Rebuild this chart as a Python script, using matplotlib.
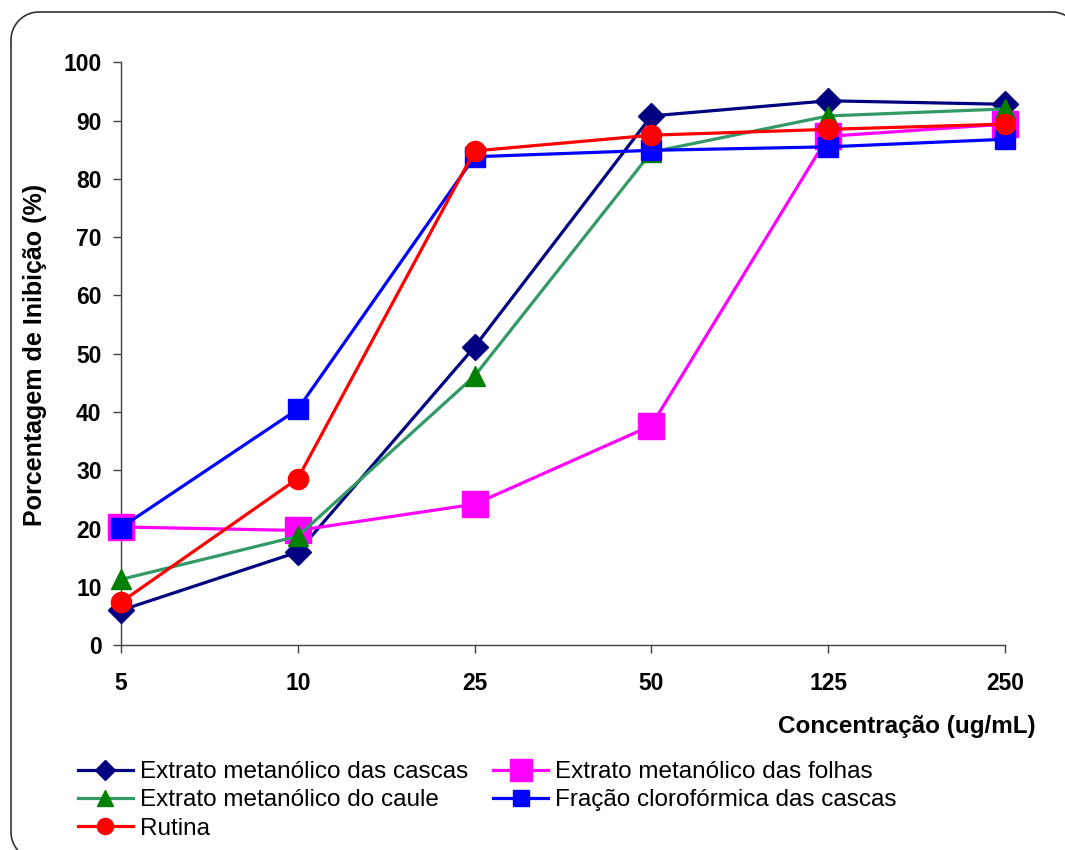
import numpy as np
import matplotlib
matplotlib.use("Agg")
import matplotlib.pyplot as plt
from matplotlib.patches import PathPatch
from matplotlib.path import Path
from matplotlib.transforms import IdentityTransform

plt.rcParams['font.family'] = ['Liberation Sans', 'DejaVu Sans']

concentracoes = ['5', '10', '25', '50', '125', '250']

cascas = [6.0, 16.0, 51.2, 90.8, 93.4, 92.8]
folhas = [20.3, 19.7, 24.2, 37.7, 87.3, 89.4]
caule = [11.3, 18.7, 46.2, 84.6, 90.8, 92.0]
fracao = [20.2, 40.5, 83.8, 84.9, 85.5, 86.8]
rutina = [7.4, 28.6, 84.8, 87.5, 88.5, 89.4]

W, H = 1065, 850
fig = plt.figure(figsize=(W / 100, H / 100), dpi=100)
ax = fig.add_axes([121 / W, (H - 645.3) / H, (1005 - 121) / W, (645.3 - 62.3) / H])

x = list(range(len(concentracoes)))
lw = 2.3

l_cascas, = ax.plot(x, cascas, color='#000080', lw=lw, marker='D', ms=13,
                    mfc='#000080', mec='#000080', zorder=3,
                    label='Extrato metanólico das cascas')
l_folhas, = ax.plot(x, folhas, color='#FF00FF', lw=lw, marker='s', ms=19,
                    mfc='#FF00FF', mec='#FF00FF', zorder=4,
                    label='Extrato metanólico das folhas')
l_caule, = ax.plot(x, caule, color='#339966', lw=lw, marker='^', ms=15,
                   mfc='#008000', mec='#008000', zorder=5,
                   label='Extrato metanólico do caule')
l_fracao, = ax.plot(x, fracao, color='#0000FF', lw=lw, marker='s', ms=15,
                    mfc='#0000FF', mec='#0000FF', zorder=6,
                    label='Fração clorofórmica das cascas')
l_rutina, = ax.plot(x, rutina, color='#FF0000', lw=lw, marker='o', ms=14.5,
                    mfc='#FF0000', mec='#FF0000', zorder=7, label='Rutina')

ax.set_xlim(0, len(concentracoes) - 1)
ax.set_ylim(0, 100)
ax.set_xticks(x)
ax.set_xticklabels(concentracoes)
ax.set_yticks(range(0, 101, 10))

for side in ('top', 'right'):
    ax.spines[side].set_visible(False)
for side in ('left', 'bottom'):
    ax.spines[side].set_color('#404040')
    ax.spines[side].set_linewidth(1.0)

ax.tick_params(axis='both', direction='out', length=6, width=1.0, color='#404040',
               labelsize=16.5)
ax.tick_params(axis='y', pad=8)
ax.tick_params(axis='x', pad=13)
for lab in ax.get_xticklabels() + ax.get_yticklabels():
    lab.set_fontweight('bold')

for line in ax.get_lines():
    line.set_clip_on(False)

fig.text(35 / W, 1 - 355 / H, 'Porcentagem de Inibição (%)', rotation=90,
         ha='center', va='center', fontsize=18, fontweight='bold')
fig.text(1036 / W, 1 - 727 / H, 'Concentração (ug/mL)', ha='right', va='center',
         fontsize=17.5, fontweight='bold')

handles = [l_cascas, l_caule, l_rutina, l_folhas, l_fracao]
leg = fig.legend(handles=handles, labels=[h.get_label() for h in handles],
                 loc='upper left', bbox_to_anchor=(78 / W, 1 - 761 / H),
                 ncol=2, frameon=False, fontsize=17.5, handlelength=2.26,
                 handletextpad=0.29, columnspacing=1.03, labelspacing=0.26,
                 borderpad=0, borderaxespad=0, markerscale=0.8)

# rounded frame around the whole figure (pixel coordinates, y measured from top)
left, top, right, bottom, r = 11, 12, 1080, 860, 28


def arc(cx, cy, a0, a1, n=24):
    t = np.radians(np.linspace(a0, a1, n))
    return np.column_stack([cx + r * np.cos(t), cy - r * np.sin(t)])


pts = np.vstack([
    arc(left + r, top + r, 180, 90),
    arc(right - r, top + r, 90, 0),
    arc(right - r, bottom - r, 0, -90),
    arc(left + r, bottom - r, -90, -180),
    [[left, top + r]],
])
pts[:, 1] = H - pts[:, 1]
frame = PathPatch(Path(pts), transform=IdentityTransform(), fill=False,
                  edgecolor='#333333', linewidth=1.2)
fig.patches.append(frame)

fig.savefig('out.png', dpi=100)
